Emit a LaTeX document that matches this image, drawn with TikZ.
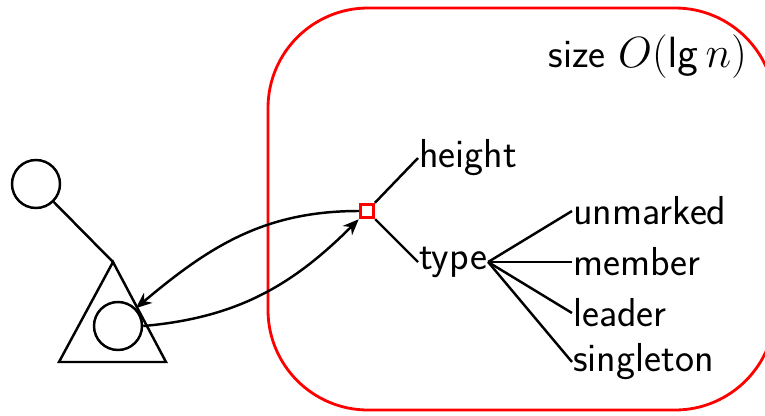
\documentclass[tikz,border=0pt]{standalone}
\usetikzlibrary{arrows.meta}
\begin{document}
\begin{tikzpicture}[scale=1,line width=1.4pt,
lbl/.style={anchor=west,inner sep=0pt,font=\fontsize{23}{27}\sffamily},
ring/.style={circle,draw,minimum size=0.96cm,inner sep=0pt},
arr/.style={-{Stealth[length=3.2mm,width=2.6mm,inset=1mm]}}]
\useasboundingbox(0,0)rectangle(15.3,8.3);
\draw[red,line width=1.6pt,rounded corners=2cm](5.36,0.1)rectangle(15.5,8.14);
\node[ring](root)at(0.72,4.62){};
\coordinate(apex)at(2.26,3.06);
\draw(apex)--(1.18,1.06)--(3.32,1.06)--cycle;
\draw(root)--(apex);
\node[ring,fill=white](kid)at(2.36,1.78){};
\node[draw=red,line width=1.7pt,fill=white,minimum size=0.27cm,inner sep=0pt](mark)at(7.34,4.08){};
\node[lbl](height)at(8.36,5.14){height};
\node[lbl](type)at(8.36,3.06){type};
\draw(mark)--(height.west);
\draw(mark)--(type.west);
\node[lbl](unmarked)at(11.44,4.08){unmarked};
\node[lbl](member)at(11.44,3.06){member};
\node[lbl](leader)at(11.44,2.04){leader};
\node[lbl](singleton)at(11.44,1.06){singleton};
\foreach \n in{unmarked,member,leader,singleton}\draw(type.east)--(\n.west);
\node[lbl,anchor=east](size)at(14.96,7.16){size $O(\mathsf{lg}\,n)$};
\draw[arr](mark.west)to[out=180,in=40](kid.45);
\draw[arr](kid.east)to[out=5,in=225](mark.225);
\end{tikzpicture}
\end{document}
